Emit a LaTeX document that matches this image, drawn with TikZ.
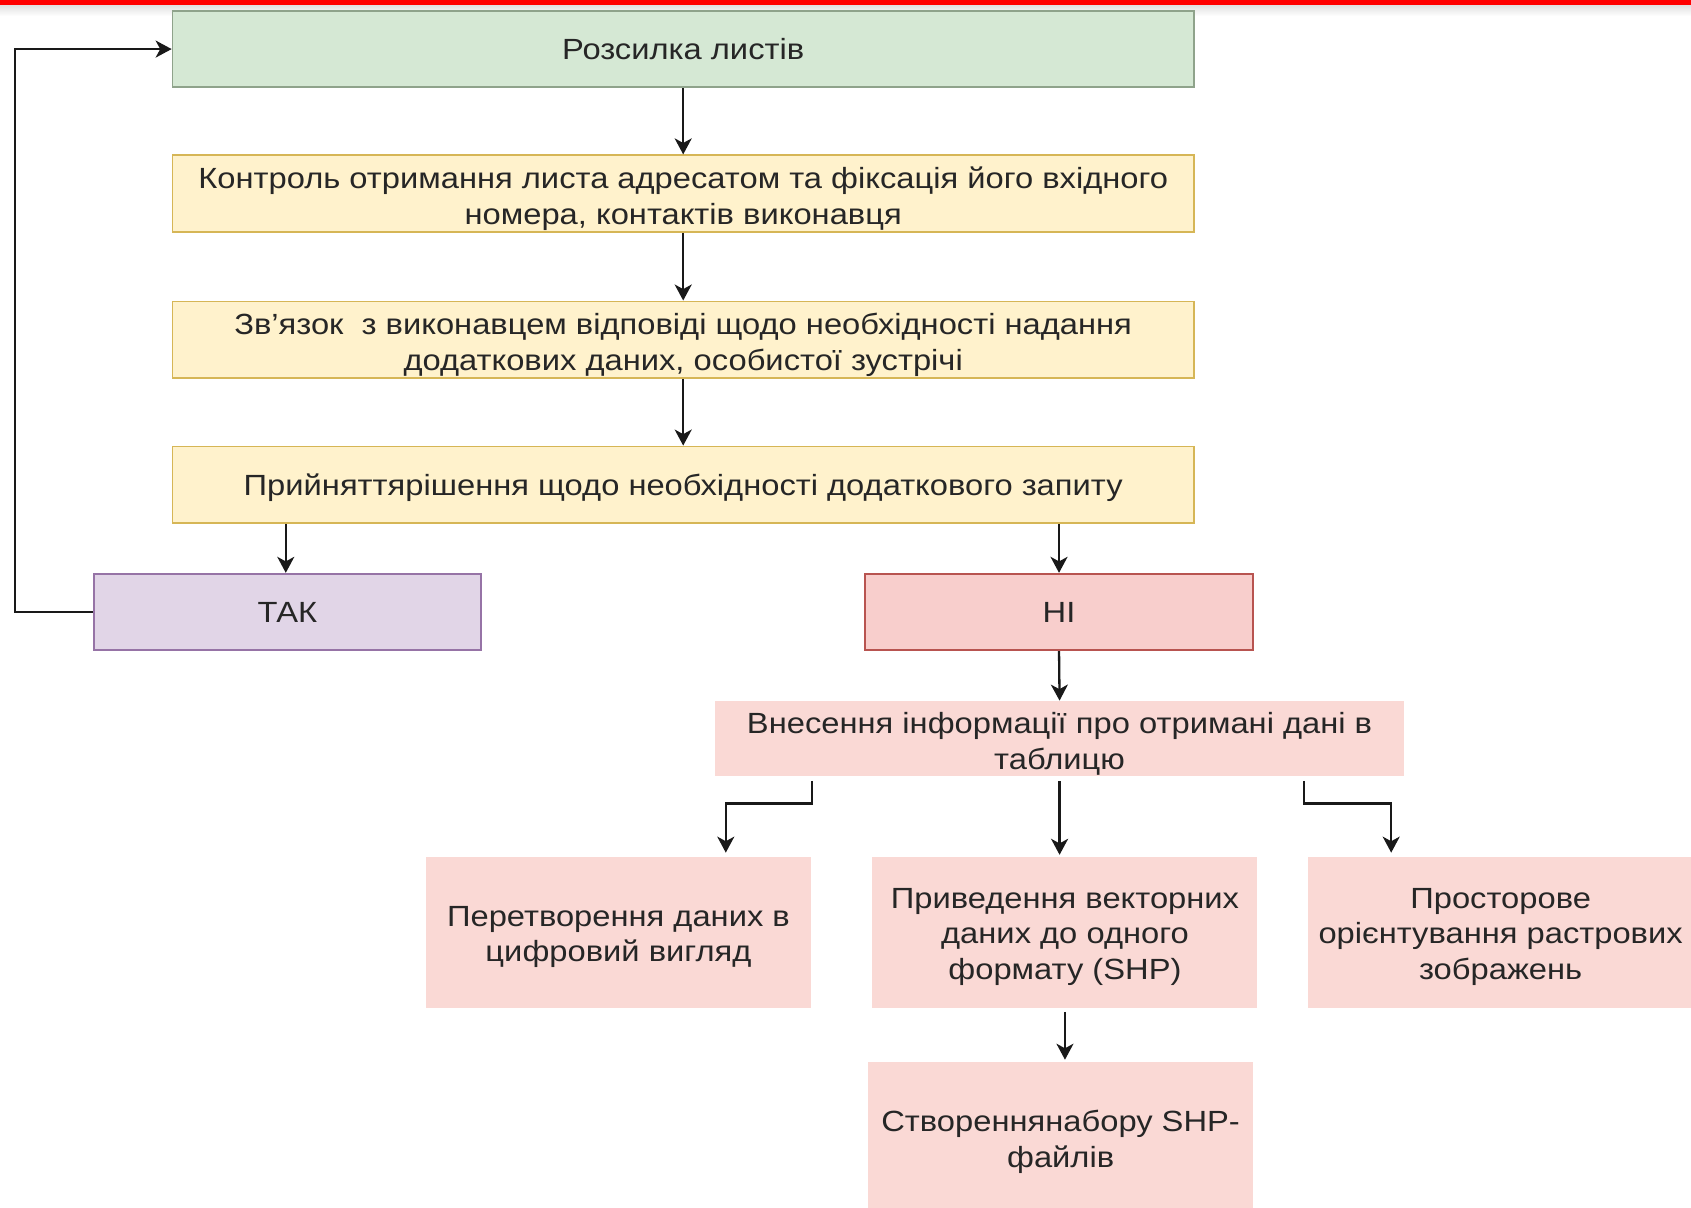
\documentclass[tikz,border=0pt]{standalone}
\usepackage{fontspec}
\setmainfont{Liberation Sans}[FakeStretch=1.12]
\usetikzlibrary{arrows.meta,calc}
\def\pxu{0.53925pt}
\newcommand\boxtxt[2][-2.8pt]{\raisebox{#1}[\height][\depth]{\begin{tabular}{@{}c@{}}#2\end{tabular}}}
\definecolor{txt}{HTML}{262626}
\definecolor{gfill}{HTML}{D5E8D4}\definecolor{gline}{HTML}{8FA38B}
\definecolor{yfill}{HTML}{FFF2CC}\definecolor{yline}{HTML}{D6B656}
\definecolor{pfill}{HTML}{E1D5E7}\definecolor{pline}{HTML}{9673A6}
\definecolor{rfill}{HTML}{F8CECC}\definecolor{rline}{HTML}{B85450}
\definecolor{lfill}{HTML}{FAD9D5}
\tikzset{
  base/.style={rectangle, inner sep=0pt, text=txt,
    font=\fontsize{14.6pt}{17.8pt}\selectfont},
  widebox/.style={base, minimum width=947*\pxu, minimum height=71*\pxu, line width=0.9pt},
  greenbox/.style={widebox, fill=gfill, draw=gline},
  yelbox/.style={widebox, fill=yfill, draw=yline},
  takbox/.style={base, minimum width=359*\pxu, minimum height=71*\pxu, fill=pfill, draw=pline, line width=0.9pt},
  nibox/.style={base, minimum width=360*\pxu, minimum height=71*\pxu, fill=rfill, draw=rline, line width=0.9pt},
  tabbox/.style={base, minimum width=639*\pxu, minimum height=70*\pxu, fill=lfill},
  subbox/.style={base, minimum width=357*\pxu, minimum height=140*\pxu, fill=lfill},
  arr/.style={draw=black!90, line width=1.15pt, -{Stealth[length=8pt,width=8.5pt,inset=2.3pt]}}
}
\begin{document}
\begin{tikzpicture}[x=\pxu, y=-\pxu]
\useasboundingbox (0,0) rectangle (1568,1120);
\fill[white] (0,0) rectangle (1568,1120);
\shade[top color=black!12, bottom color=white] (0,4.5) rectangle (1568,15);
\fill[red] (0,0) rectangle (1568,4.5);

\node[greenbox] (n1) at (633.5,45.5) {\boxtxt[-1.9pt]{Розсилка листів}};
\node[yelbox] (n2) at (633.5,179.5) {\boxtxt{Контроль отримання листа адресатом та фіксація його вхідного\\номера, контактів виконавця}};
\node[yelbox] (n3) at (633.5,315) {\boxtxt{Зв’язок\ \ з виконавцем відповіді щодо необхідності надання\\додаткових даних, особистої зустрічі}};
\node[yelbox] (n4) at (633.5,449.5) {\boxtxt[-1.9pt]{Прийняттярішення щодо необхідності додаткового запиту}};
\node[takbox] (tak) at (266.5,567.5) {\boxtxt[-1.9pt]{ТАК}};
\node[nibox] (ni) at (982,567.5) {\boxtxt[-1.9pt]{НІ}};
\node[tabbox] (vn) at (982.5,685) {\boxtxt{Внесення інформації про отримані дані в\\таблицю}};
\node[subbox] (a) at (573.5,865) {\boxtxt[-2pt]{Перетворення даних в\\цифровий вигляд}};
\node[subbox] (b) at (987.5,865) {\boxtxt[-2pt]{Приведення векторних\\даних до одного\\формату (SHP)}};
\node[subbox] (c) at (1391.5,865) {\boxtxt[-2pt]{Просторове\\орієнтування растрових\\зображень}};
\node[subbox] (d) at (983.5,1055) {\boxtxt[-2.4pt]{Створеннянабору SHP-\\файлів}};

\coordinate (sa) at (753,724);
\coordinate (ja) at (673,745);
\coordinate (sc) at (1209,724);
\coordinate (jc) at (1290,745);

\draw[arr] (n1.south) -- (n2.north);
\draw[arr] (n2.south) -- (n3.north);
\draw[arr] (n3.south) -- (n4.north);
\draw[arr] (n4.south -| 265,0) -- (265,0 |- tak.north);
\draw[arr] (n4.south -| ni.north) -- (ni.north);
\draw[arr] (tak.west) -- ++(-72,0) |- (n1.west);
\draw[arr] (ni.south) -- (vn.north);
\draw[arr] (sa) |- (ja) -- ($(ja |- a.north)+(0,-4)$);
\draw[arr] ($(vn.south)+(0,4)$) -- ($(vn.south |- b.north)+(0,-2)$);
\draw[arr] (sc) |- (jc) -- ($(jc |- c.north)+(0,-4)$);
\draw[arr] ($(b.south)+(0,3)$) -- ($(b.south |- d.north)+(0,-2)$);
\end{tikzpicture}
\end{document}
